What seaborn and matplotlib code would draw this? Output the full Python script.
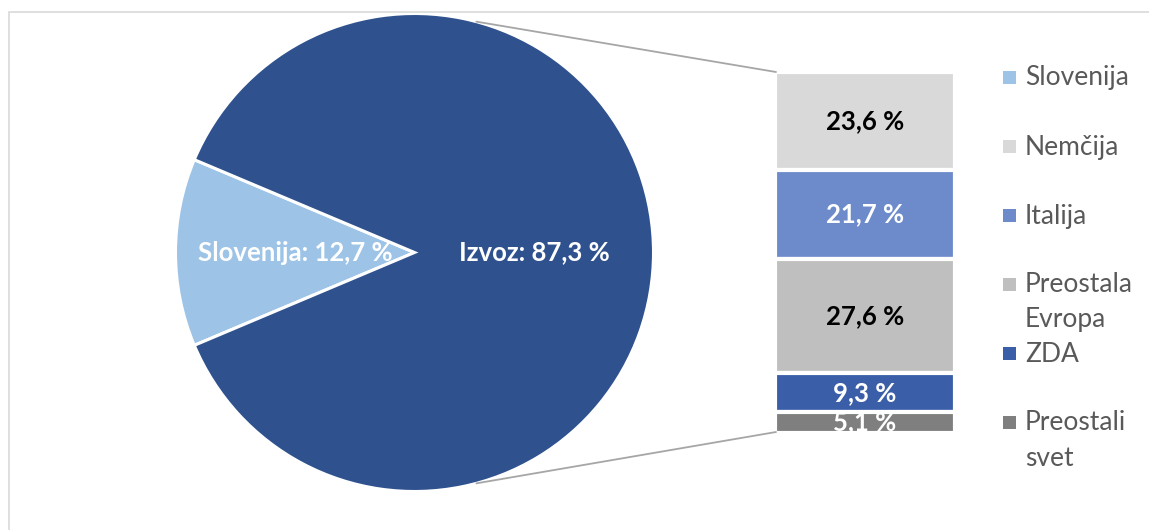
import matplotlib
matplotlib.use("Agg")
import matplotlib.pyplot as plt
import seaborn as sns
import numpy as np
from matplotlib.patches import Rectangle
from matplotlib.lines import Line2D

# ---- data ----
pie_labels = ["Slovenija", "Izvoz"]
pie_values = [12.7, 87.3]
bar_labels = ["Nemčija", "Italija", "Preostala Evropa", "ZDA", "Preostali svet"]
bar_values = [23.6, 21.7, 27.6, 9.3, 5.1]
legend_labels = ["Slovenija", "Nemčija", "Italija", "Preostala\nEvropa", "ZDA", "Preostali\nsvet"]

pie_colors = ["#9DC3E6", "#2F528F"]
bar_colors = ["#D9D9D9", "#6D8BCB", "#BFBFBF", "#3A5EA7", "#7F7F7F"]
bar_text_colors = ["black", "white", "black", "white", "white"]
legend_colors = [pie_colors[0]] + bar_colors

sns.set_theme(style="white")
plt.rcParams['font.family'] = ['Lato', 'DejaVu Sans']

W, H = 1149, 530
fig = plt.figure(figsize=(W / 100, H / 100), dpi=100)
fig.patch.set_facecolor("white")


def fx(px):
    return px / W


def fy(py):
    return 1 - py / H


def fmt(v):
    return f"{v:.1f} %".replace(".", ",")


# chart frame
fig.add_artist(Rectangle((fx(9), fy(700)), fx(1300) - fx(9), fy(12) - fy(700),
                         transform=fig.transFigure, fill=False,
                         edgecolor="#D9D9D9", lw=1.2))

# ---- pie ----
cx, cy, R = 414.5, 252.5, 239
ax_pie = fig.add_axes([fx(cx - R), fy(cy + R), 2 * R / W, 2 * R / H])
start = 180 - pie_values[0] / sum(pie_values) * 180
wedges, texts = ax_pie.pie(
    pie_values, colors=pie_colors, startangle=start, counterclock=True,
    labels=[f"{l}: {fmt(v)}" for l, v in zip(pie_labels, pie_values)],
    labeldistance=0.5,
    wedgeprops=dict(edgecolor="white", linewidth=2.2),
    textprops=dict(color="white", fontsize=18.5, fontweight="bold"))
for t in texts:
    t.set_ha("center")
    t.set_va("center")
ax_pie.set_xlim(-1, 1)
ax_pie.set_ylim(-1, 1)
ax_pie.set_aspect("equal")
ax_pie.axis("off")

# ---- stacked bar ----
bx0, bx1, by0, by1 = 775, 955, 72, 433
ax_bar = fig.add_axes([fx(bx0), fy(by1), (bx1 - bx0) / W, (by1 - by0) / H])
bottoms = np.concatenate([[0], np.cumsum(bar_values)[:-1]])
ax_bar.bar([0] * len(bar_values), bar_values, bottom=bottoms, width=1.0,
           color=bar_colors, edgecolor="white", linewidth=3.0)
for v, b, c in zip(bar_values, bottoms, bar_text_colors):
    ax_bar.text(0, b + v / 2, fmt(v), ha="center", va="center",
                fontsize=18.5, fontweight="bold", color=c, clip_on=True)
ax_bar.set_xlim(-0.5, 0.5)
ax_bar.set_ylim(sum(bar_values), 0)
ax_bar.axis("off")

# ---- connector lines ----
ang = np.deg2rad(75)
sx = cx + R * np.cos(ang)
for sy, ey in [(cy - R * np.sin(ang), by0), (cy + R * np.sin(ang), by1 - 1)]:
    fig.add_artist(Line2D([fx(sx), fx(bx0 + 1)], [fy(sy), fy(ey)],
                          transform=fig.transFigure, color="#A6A6A6", lw=1.3))

# ---- legend ----
for i, (lab, col) in enumerate(zip(legend_labels, legend_colors)):
    yc = 77 + i * 69
    fig.add_artist(Rectangle((fx(1003), fy(yc + 6.5)), 13 / W, 13 / H,
                             transform=fig.transFigure, facecolor=col,
                             edgecolor="none"))
    for k, line in enumerate(lab.split("\n")):
        fig.text(fx(1025), fy(yc + 8.5 + k * 35), line, ha="left",
                 va="baseline", fontsize=19, color="#595959")

fig.savefig("out.png", dpi=100, facecolor="white")
